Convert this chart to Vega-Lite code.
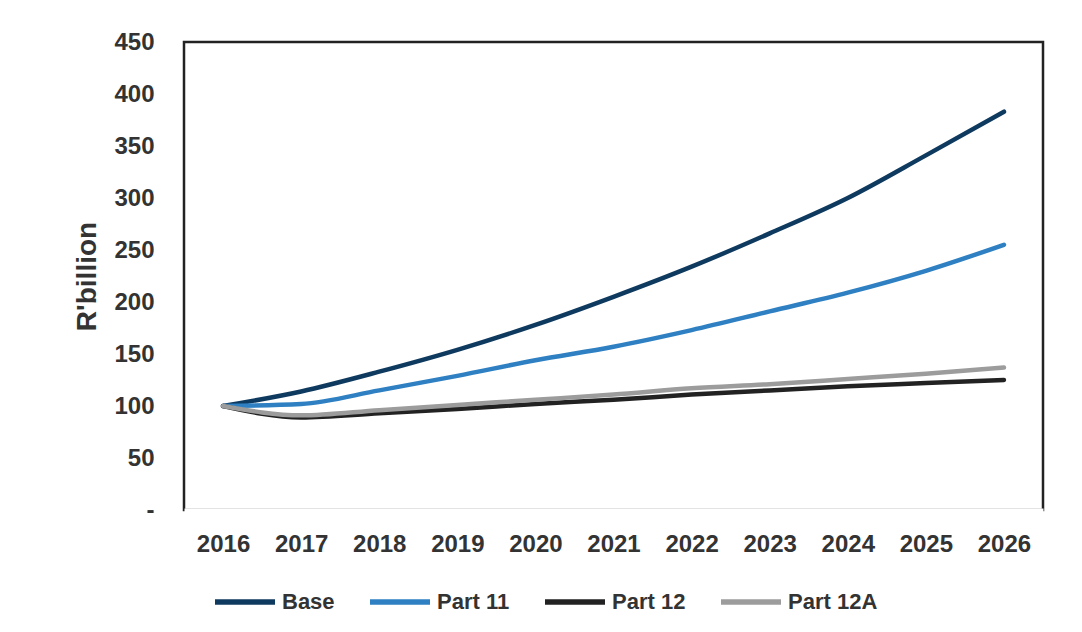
{
  "$schema": "https://vega.github.io/schema/vega-lite/v6.json",
  "autosize": {"type": "none"},
  "width": 859,
  "height": 468,
  "padding": {"left": 184, "top": 42, "right": 39, "bottom": 122},
  "background": "white",
  "config": {
    "view": {"stroke": "#222222", "strokeWidth": 2.5},
    "font": "Liberation Sans"
  },
  "data": {
    "values": [
      {"Year": "2016", "Series": "Base", "Value": 100},
      {"Year": "2017", "Series": "Base", "Value": 114},
      {"Year": "2018", "Series": "Base", "Value": 133},
      {"Year": "2019", "Series": "Base", "Value": 154},
      {"Year": "2020", "Series": "Base", "Value": 178},
      {"Year": "2021", "Series": "Base", "Value": 205},
      {"Year": "2022", "Series": "Base", "Value": 234},
      {"Year": "2023", "Series": "Base", "Value": 266},
      {"Year": "2024", "Series": "Base", "Value": 300},
      {"Year": "2025", "Series": "Base", "Value": 341},
      {"Year": "2026", "Series": "Base", "Value": 383},
      {"Year": "2016", "Series": "Part 11", "Value": 100},
      {"Year": "2017", "Series": "Part 11", "Value": 102},
      {"Year": "2018", "Series": "Part 11", "Value": 115},
      {"Year": "2019", "Series": "Part 11", "Value": 129},
      {"Year": "2020", "Series": "Part 11", "Value": 144},
      {"Year": "2021", "Series": "Part 11", "Value": 157},
      {"Year": "2022", "Series": "Part 11", "Value": 173},
      {"Year": "2023", "Series": "Part 11", "Value": 191},
      {"Year": "2024", "Series": "Part 11", "Value": 209},
      {"Year": "2025", "Series": "Part 11", "Value": 230},
      {"Year": "2026", "Series": "Part 11", "Value": 255},
      {"Year": "2016", "Series": "Part 12", "Value": 100},
      {"Year": "2017", "Series": "Part 12", "Value": 89},
      {"Year": "2018", "Series": "Part 12", "Value": 93},
      {"Year": "2019", "Series": "Part 12", "Value": 97},
      {"Year": "2020", "Series": "Part 12", "Value": 102},
      {"Year": "2021", "Series": "Part 12", "Value": 106},
      {"Year": "2022", "Series": "Part 12", "Value": 111},
      {"Year": "2023", "Series": "Part 12", "Value": 115},
      {"Year": "2024", "Series": "Part 12", "Value": 119},
      {"Year": "2025", "Series": "Part 12", "Value": 122},
      {"Year": "2026", "Series": "Part 12", "Value": 125},
      {"Year": "2016", "Series": "Part 12A", "Value": 100},
      {"Year": "2017", "Series": "Part 12A", "Value": 91},
      {"Year": "2018", "Series": "Part 12A", "Value": 96},
      {"Year": "2019", "Series": "Part 12A", "Value": 101},
      {"Year": "2020", "Series": "Part 12A", "Value": 106},
      {"Year": "2021", "Series": "Part 12A", "Value": 111},
      {"Year": "2022", "Series": "Part 12A", "Value": 117},
      {"Year": "2023", "Series": "Part 12A", "Value": 121},
      {"Year": "2024", "Series": "Part 12A", "Value": 126},
      {"Year": "2025", "Series": "Part 12A", "Value": 131},
      {"Year": "2026", "Series": "Part 12A", "Value": 137}
    ]
  },
  "mark": {"type": "line", "interpolate": "monotone", "strokeWidth": 4.5, "strokeCap": "round"},
  "encoding": {
    "x": {
      "field": "Year",
      "type": "ordinal",
      "scale": {"type": "point", "padding": 0.5},
      "axis": {
        "title": null,
        "labelAngle": 0,
        "labelFontSize": 24,
        "labelFontWeight": "bold",
        "labelColor": "#333333",
        "labelPadding": 22,
        "ticks": false,
        "domainColor": "white",
        "domainWidth": 4,
        "grid": false
      }
    },
    "y": {
      "field": "Value",
      "type": "quantitative",
      "scale": {"domain": [0, 450], "nice": false},
      "axis": {
        "title": "R'billion",
        "titleFontSize": 28,
        "titleFontWeight": "bold",
        "titleColor": "#333333",
        "titlePadding": 12,
        "values": [0, 50, 100, 150, 200, 250, 300, 350, 400, 450],
        "labelExpr": "datum.value == 0 ? '-' : datum.label",
        "labelFontSize": 24,
        "labelFontWeight": "bold",
        "labelColor": "#333333",
        "labelPadding": 30,
        "ticks": false,
        "domain": false,
        "grid": false
      }
    },
    "color": {
      "field": "Series",
      "type": "nominal",
      "scale": {
        "domain": ["Base", "Part 11", "Part 12", "Part 12A"],
        "range": ["#0f3a5f", "#2e80c2", "#222222", "#9c9c9c"]
      },
      "legend": {
        "title": null,
        "orient": "none",
        "direction": "horizontal",
        "legendX": 28,
        "legendY": 527,
        "symbolType": "stroke",
        "symbolSize": 3600,
        "symbolStrokeWidth": 5.5,
        "labelFontSize": 22,
        "labelFontWeight": "bold",
        "labelColor": "#333333",
        "labelOffset": 4,
        "columnPadding": 24
      }
    }
  }
}
